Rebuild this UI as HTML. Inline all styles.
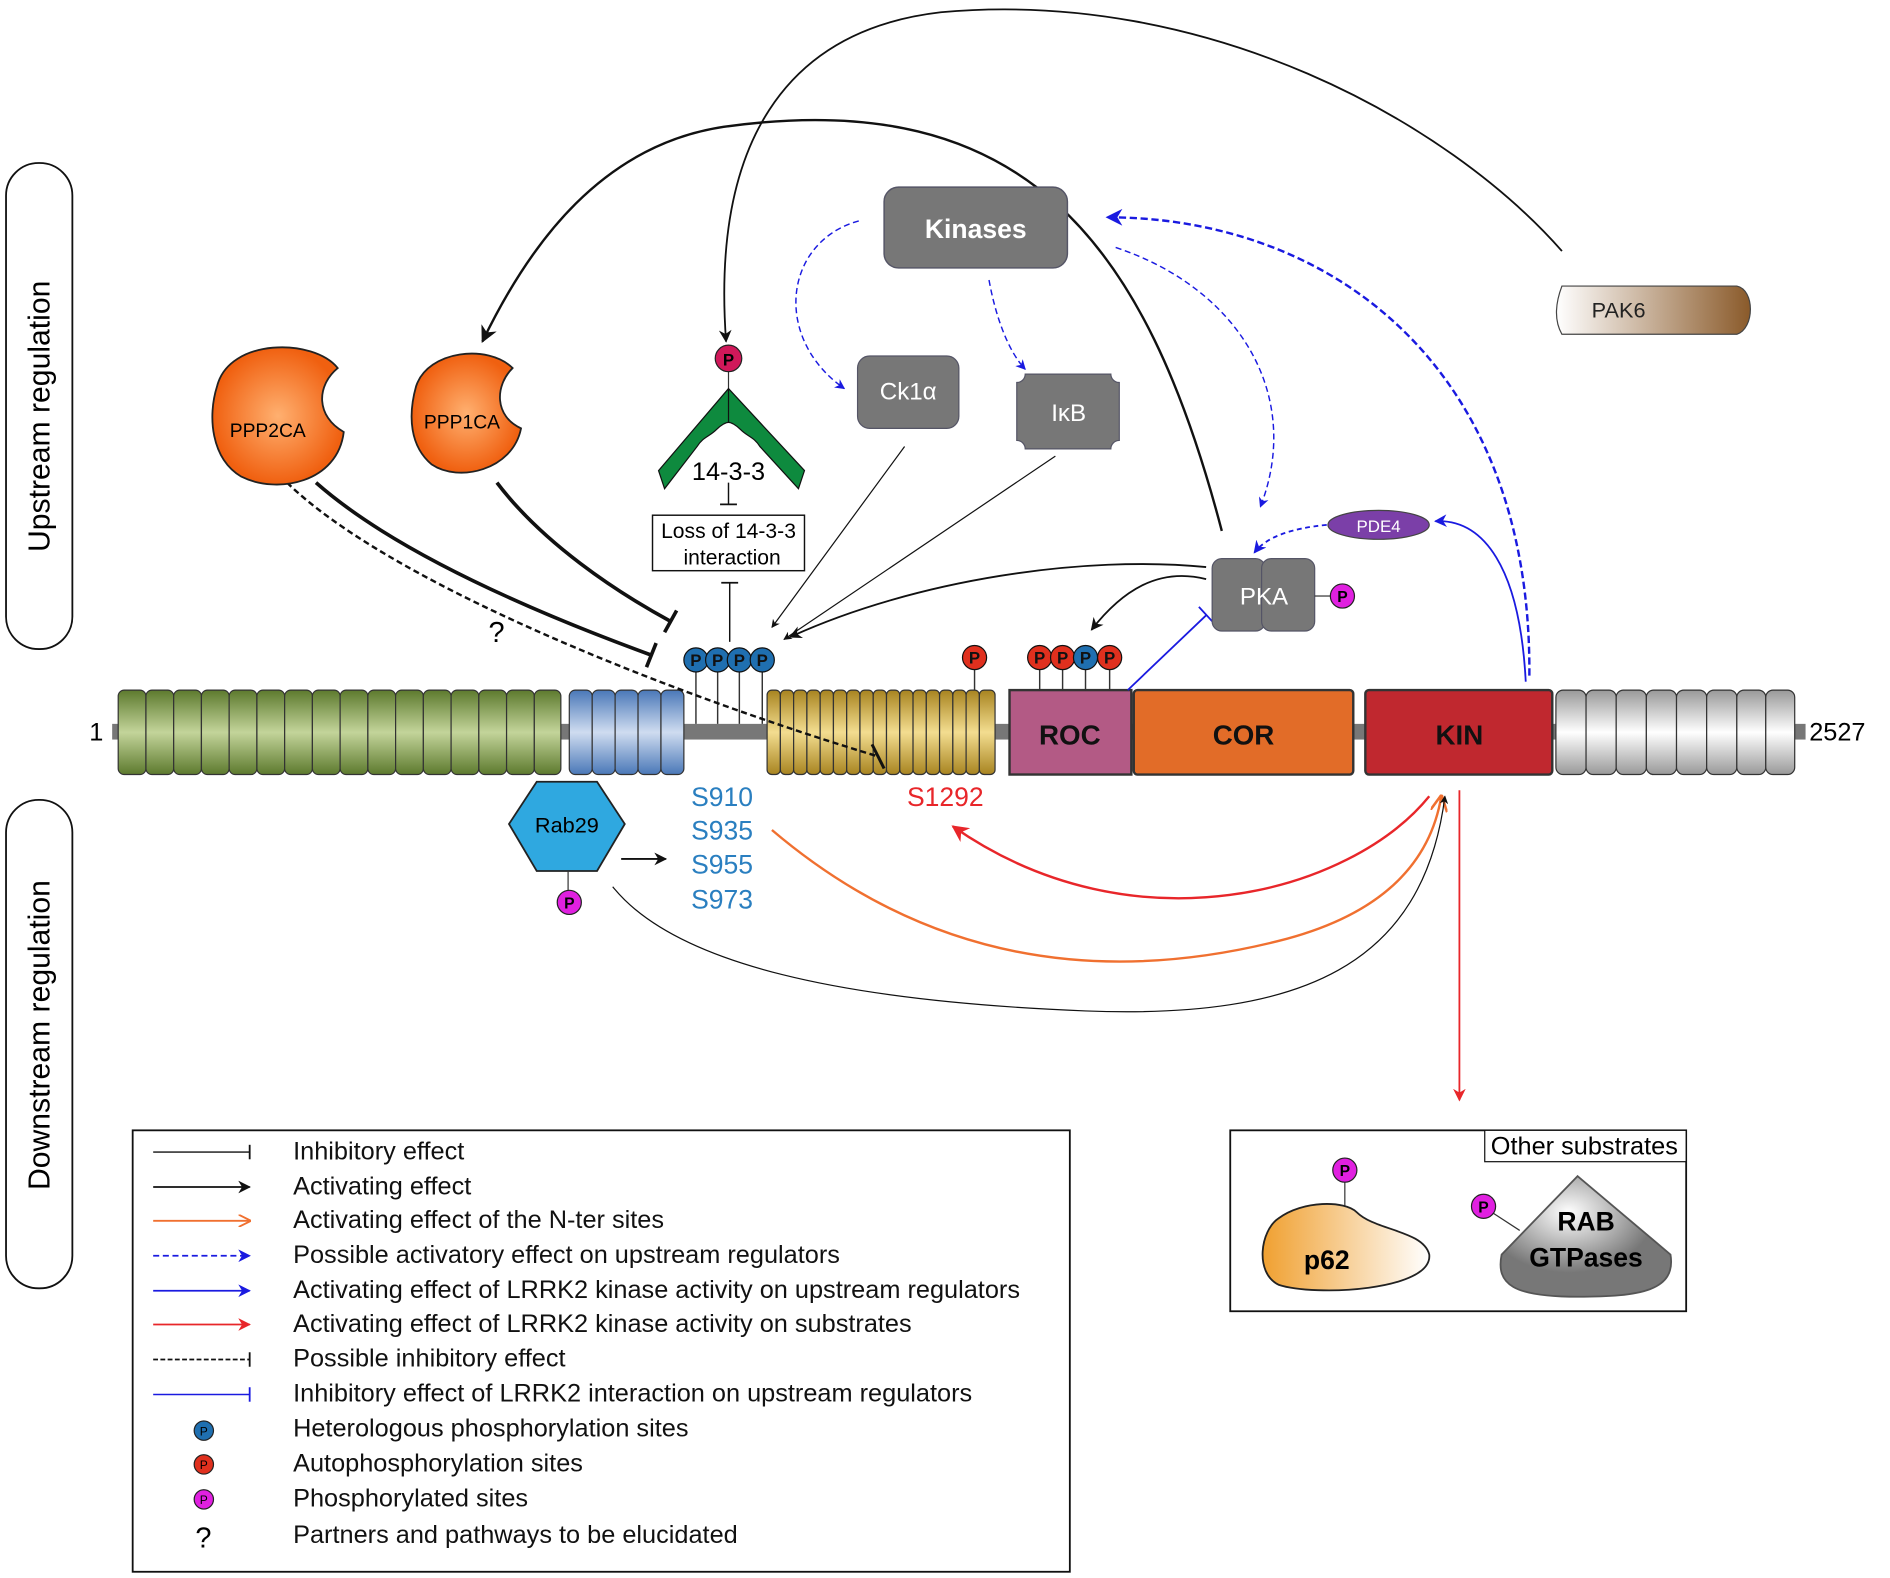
<!DOCTYPE html>
<html><head><meta charset="utf-8"><style>html,body{margin:0;padding:0;background:#fff}svg{display:block}text{font-family:"Liberation Sans",sans-serif}</style></head><body>
<svg width="1890" height="1578" viewBox="0 0 1567 1308" xmlns="http://www.w3.org/2000/svg">
<defs>
<marker id="ab" viewBox="0 0 10 10" refX="9" refY="5" markerWidth="7" markerHeight="7" orient="auto-start-reverse"><path d="M0,0 L10,5 L0,10 L3,5z" fill="#111"/></marker>
<marker id="abl" viewBox="0 0 10 10" refX="9" refY="5" markerWidth="7" markerHeight="7" orient="auto"><path d="M0,0 L10,5 L0,10 L3,5z" fill="#1a1ae0"/></marker>
<marker id="ar" viewBox="0 0 10 10" refX="9" refY="5" markerWidth="7" markerHeight="7" orient="auto"><path d="M0,0 L10,5 L0,10 L3,5z" fill="#e8262a"/></marker>
<marker id="ao" viewBox="0 0 10 10" refX="9" refY="5" markerWidth="7" markerHeight="7" orient="auto"><path d="M0,0 L10,5 L0,10" fill="none" stroke="#f07030" stroke-width="1.5"/></marker>
<linearGradient id="gg" x1="0" y1="0" x2="0" y2="1"><stop offset="0" stop-color="#5d7a2e"/><stop offset=".5" stop-color="#c3d49a"/><stop offset="1" stop-color="#5d7a2e"/></linearGradient>
<linearGradient id="gb" x1="0" y1="0" x2="0" y2="1"><stop offset="0" stop-color="#4a78b8"/><stop offset=".5" stop-color="#cfdcf0"/><stop offset="1" stop-color="#4a78b8"/></linearGradient>
<linearGradient id="gy" x1="0" y1="0" x2="0" y2="1"><stop offset="0" stop-color="#a88420"/><stop offset=".5" stop-color="#f3dd90"/><stop offset="1" stop-color="#a88420"/></linearGradient>
<linearGradient id="gw" x1="0" y1="0" x2="0" y2="1"><stop offset="0" stop-color="#999"/><stop offset=".5" stop-color="#fff"/><stop offset="1" stop-color="#999"/></linearGradient>
<radialGradient id="go"><stop offset="0" stop-color="#ffb070"/><stop offset="1" stop-color="#f06010"/></radialGradient>
<linearGradient id="gpak" x1="0" x2="1"><stop offset="0" stop-color="#fff"/><stop offset="1" stop-color="#8a5a2a"/></linearGradient>
<linearGradient id="gp62" x1="0" x2="1"><stop offset="0" stop-color="#f0a030"/><stop offset="1" stop-color="#fff"/></linearGradient>
<radialGradient id="grab" cx=".4" cy=".3"><stop offset="0" stop-color="#fff"/><stop offset="1" stop-color="#777"/></radialGradient>
</defs>

<rect x="5" y="135" width="55" height="403" rx="27" fill="none" stroke="#111" stroke-width="1.5"/>
<text transform="translate(41,345) rotate(-90)" font-size="25" text-anchor="middle">Upstream regulation</text>
<rect x="5" y="663" width="55" height="405" rx="27" fill="none" stroke="#111" stroke-width="1.5"/>
<text transform="translate(41,858) rotate(-90)" font-size="25" text-anchor="middle">Downstream regulation</text>

<rect x="93" y="600" width="1404" height="13" fill="#777"/>
<text x="74" y="614" font-size="21">1</text>
<text x="1500" y="614" font-size="21">2527</text>
<g stroke="#333" stroke-width="1">
<g fill="url(#gg)">
<rect x="98" y="572" width="23" height="70" rx="5"/><rect x="121" y="572" width="23" height="70" rx="5"/><rect x="144" y="572" width="23" height="70" rx="5"/><rect x="167" y="572" width="23" height="70" rx="5"/><rect x="190" y="572" width="23" height="70" rx="5"/><rect x="213" y="572" width="23" height="70" rx="5"/><rect x="236" y="572" width="23" height="70" rx="5"/><rect x="259" y="572" width="23" height="70" rx="5"/><rect x="282" y="572" width="23" height="70" rx="5"/><rect x="305" y="572" width="23" height="70" rx="5"/><rect x="328" y="572" width="23" height="70" rx="5"/><rect x="351" y="572" width="23" height="70" rx="5"/><rect x="374" y="572" width="23" height="70" rx="5"/><rect x="397" y="572" width="23" height="70" rx="5"/><rect x="420" y="572" width="23" height="70" rx="5"/><rect x="443" y="572" width="22" height="70" rx="5"/>
</g>
<g fill="url(#gb)">
<rect x="472" y="572" width="19" height="70" rx="5"/><rect x="491" y="572" width="19" height="70" rx="5"/><rect x="510" y="572" width="19" height="70" rx="5"/><rect x="529" y="572" width="19" height="70" rx="5"/><rect x="548" y="572" width="19" height="70" rx="5"/>
</g>
<g fill="url(#gy)">
<rect x="636" y="572" width="11" height="70" rx="4"/><rect x="647" y="572" width="11" height="70" rx="4"/><rect x="658" y="572" width="11" height="70" rx="4"/><rect x="669" y="572" width="11" height="70" rx="4"/><rect x="680" y="572" width="11" height="70" rx="4"/><rect x="691" y="572" width="11" height="70" rx="4"/><rect x="702" y="572" width="11" height="70" rx="4"/><rect x="713" y="572" width="11" height="70" rx="4"/><rect x="724" y="572" width="11" height="70" rx="4"/><rect x="735" y="572" width="11" height="70" rx="4"/><rect x="746" y="572" width="11" height="70" rx="4"/><rect x="757" y="572" width="11" height="70" rx="4"/><rect x="768" y="572" width="11" height="70" rx="4"/><rect x="779" y="572" width="11" height="70" rx="4"/><rect x="790" y="572" width="11" height="70" rx="4"/><rect x="801" y="572" width="11" height="70" rx="4"/><rect x="812" y="572" width="13" height="70" rx="4"/>
</g>
<g fill="url(#gw)">
<rect x="1290" y="572" width="25" height="70" rx="6"/><rect x="1315" y="572" width="25" height="70" rx="6"/><rect x="1340" y="572" width="25" height="70" rx="6"/><rect x="1365" y="572" width="25" height="70" rx="6"/><rect x="1390" y="572" width="25" height="70" rx="6"/><rect x="1415" y="572" width="25" height="70" rx="6"/><rect x="1440" y="572" width="24" height="70" rx="6"/><rect x="1464" y="572" width="24" height="70" rx="6"/>
</g>
<rect x="837" y="572" width="101" height="70" fill="#b35a85" stroke-width="2"/>
<rect x="940" y="572" width="182" height="70" rx="3" fill="#e26c28" stroke-width="2"/>
<rect x="1132" y="572" width="155" height="70" rx="3" fill="#c0282f" stroke-width="2"/>
</g>
<text x="887" y="617" font-size="23" font-weight="bold" text-anchor="middle" fill="#111">ROC</text>
<text x="1031" y="617" font-size="23" font-weight="bold" text-anchor="middle" fill="#111">COR</text>
<text x="1210" y="617" font-size="23" font-weight="bold" text-anchor="middle" fill="#111">KIN</text>

<g stroke="#333" stroke-width="1.2">
<line x1="577" y1="547" x2="577" y2="600"/><line x1="595" y1="547" x2="595" y2="600"/><line x1="613" y1="547" x2="613" y2="600"/><line x1="632" y1="547" x2="632" y2="600"/>
<line x1="808" y1="545" x2="808" y2="572"/><line x1="862" y1="545" x2="862" y2="572"/><line x1="881" y1="545" x2="881" y2="572"/><line x1="900" y1="545" x2="900" y2="572"/><line x1="920" y1="545" x2="920" y2="572"/>
</g>
<g stroke="#111" stroke-width="1">
<circle cx="577" cy="547" r="10" fill="#1f6fb0"/><circle cx="595" cy="547" r="10" fill="#1f6fb0"/><circle cx="613" cy="547" r="10" fill="#1f6fb0"/><circle cx="632" cy="547" r="10" fill="#1f6fb0"/>
<circle cx="808" cy="545" r="10" fill="#e0301e"/><circle cx="862" cy="545" r="10" fill="#e0301e"/><circle cx="881" cy="545" r="10" fill="#e0301e"/><circle cx="900" cy="545" r="10" fill="#1f6fb0"/><circle cx="920" cy="545" r="10" fill="#e0301e"/>
</g>
<g font-size="14" font-weight="bold" text-anchor="middle" fill="#111">
<text x="577" y="552">P</text><text x="595" y="552">P</text><text x="613" y="552">P</text><text x="632" y="552">P</text>
<text x="808" y="550">P</text><text x="862" y="550">P</text><text x="881" y="550">P</text><text x="900" y="550">P</text><text x="920" y="550">P</text>
</g>

<g font-size="22" fill="#2a7fc0"><text x="573" y="668">S910</text><text x="573" y="696">S935</text><text x="573" y="724">S955</text><text x="573" y="753">S973</text></g>
<text x="752" y="668" font-size="22" fill="#e8262a">S1292</text>

<polygon points="445,648 495,648 518,683 495,722 445,722 422,683" fill="#2fa8e0" stroke="#222" stroke-width="1.5"/>
<text x="470" y="690" font-size="18" text-anchor="middle">Rab29</text>
<line x1="471" y1="722" x2="471" y2="738" stroke="#333"/>
<circle cx="472" cy="748" r="10" fill="#e020e0" stroke="#222"/><text x="472" y="753" font-size="13" font-weight="bold" text-anchor="middle">P</text>

<line x1="515" y1="712" x2="552" y2="712" stroke="#111" stroke-width="1.5" marker-end="url(#ab)"/>
<path d="M640,688 C760,790 900,820 1060,780 C1140,760 1185,720 1195,660" fill="none" stroke="#f07030" stroke-width="2" marker-end="url(#ao)"/>
<path d="M1185,660 C1120,740 940,790 790,685" fill="none" stroke="#e8262a" stroke-width="2" marker-end="url(#ar)"/>
<path d="M508,735 C560,800 700,830 900,838 C1080,845 1180,800 1198,660" fill="none" stroke="#111" stroke-width="1" marker-end="url(#ab)"/>
<line x1="1210" y1="655" x2="1210" y2="912" stroke="#e8262a" stroke-width="1.5" marker-end="url(#ar)"/>
<path d="M238,400 C320,480 540,570 728,627" fill="none" stroke="#111" stroke-width="2" stroke-dasharray="5,3"/>
<line x1="723" y1="617" x2="733" y2="637" stroke="#111" stroke-width="2.5"/>
<text x="405" y="532" font-size="24">?</text>
<path d="M262,400 C330,460 450,510 540,543" fill="none" stroke="#111" stroke-width="3"/>
<line x1="544" y1="533" x2="536" y2="553" stroke="#111" stroke-width="3"/>
<path d="M412,400 C450,450 510,490 556,515" fill="none" stroke="#111" stroke-width="3"/>
<line x1="561" y1="506" x2="551" y2="524" stroke="#111" stroke-width="3"/>
<line x1="605" y1="483" x2="605" y2="532" stroke="#111" stroke-width="1.2"/><line x1="598" y1="483" x2="612" y2="483" stroke="#111" stroke-width="1.5"/>
<line x1="604" y1="400" x2="604" y2="418" stroke="#111" stroke-width="1.2"/><line x1="597" y1="418" x2="611" y2="418" stroke="#111" stroke-width="1.5"/>
<line x1="750" y1="370" x2="640" y2="520" stroke="#111" stroke-width="1" marker-end="url(#ab)"/>
<line x1="875" y1="378" x2="650" y2="530" stroke="#111" stroke-width="1" marker-end="url(#ab)"/>
<path d="M1000,470 C900,460 760,480 655,528" fill="none" stroke="#111" stroke-width="1.5" marker-end="url(#ab)"/>
<path d="M1000,480 C960,470 930,490 905,522" fill="none" stroke="#111" stroke-width="1.5" marker-end="url(#ab)"/>
<line x1="935" y1="572" x2="1000" y2="510" stroke="#1a1ae0" stroke-width="1.5"/><line x1="994" y1="503" x2="1006" y2="516" stroke="#1a1ae0" stroke-width="1.5"/>
<path d="M1013,440 C950,200 850,70 600,105 C500,120 440,200 400,283" fill="none" stroke="#111" stroke-width="2" marker-end="url(#ab)"/>
<path d="M1295,208 C1200,100 1000,-10 780,10 C650,25 590,120 602,283" fill="none" stroke="#111" stroke-width="1.5" marker-end="url(#ab)"/>
<path d="M712,183 C650,200 640,280 700,322" fill="none" stroke="#1a1ae0" stroke-width="1.2" stroke-dasharray="5,3" marker-end="url(#abl)"/>
<path d="M820,232 C825,260 835,290 850,306" fill="none" stroke="#1a1ae0" stroke-width="1.2" stroke-dasharray="5,3" marker-end="url(#abl)"/>
<path d="M925,205 C1030,240 1080,330 1045,420" fill="none" stroke="#1a1ae0" stroke-width="1.2" stroke-dasharray="5,3" marker-end="url(#abl)"/>
<path d="M1268,560 C1270,300 1100,180 918,180" fill="none" stroke="#1a1ae0" stroke-width="2" stroke-dasharray="6,3" marker-end="url(#abl)"/>
<path d="M1100,435 C1070,438 1050,445 1040,458" fill="none" stroke="#1a1ae0" stroke-width="1.5" stroke-dasharray="4,3" marker-end="url(#abl)"/>
<path d="M1265,565 C1260,470 1230,430 1190,432" fill="none" stroke="#1a1ae0" stroke-width="1.5" marker-end="url(#abl)"/>

<path d="M180,320 C190,280 260,280 280,305 C262,320 262,345 285,358 C280,400 230,410 200,395 C175,380 172,345 180,320z" fill="url(#go)" stroke="#222" stroke-width="1.5"/>
<text x="222" y="362" font-size="16" text-anchor="middle">PPP2CA</text>
<path d="M345,320 C355,290 405,285 425,305 C410,320 410,345 432,355 C425,390 380,400 358,385 C340,370 338,345 345,320z" fill="url(#go)" stroke="#222" stroke-width="1.5"/>
<text x="383" y="355" font-size="16" text-anchor="middle">PPP1CA</text>

<line x1="604" y1="307" x2="604" y2="322" stroke="#333"/>
<circle cx="604" cy="297" r="11" fill="#d0185a" stroke="#222"/><text x="604" y="303" font-size="14" font-weight="bold" text-anchor="middle">P</text>
<path d="M604,322 L667,390 L662,405 L630,370 C625,362 620,362 614,356 C610,352 606,350 604,350 C602,350 598,352 594,356 C588,362 583,362 578,370 L551,405 L546,390 Z" fill="#0e8a3e" stroke="#111" stroke-width="1"/>
<line x1="604" y1="322" x2="604" y2="350" stroke="#111"/>
<text x="604" y="398" font-size="21" text-anchor="middle">14-3-3</text>
<rect x="541" y="427" width="126" height="46" fill="#fff" stroke="#111" stroke-width="1.2"/>
<text x="604" y="446" font-size="17.5" text-anchor="middle">Loss of 14-3-3</text>
<text x="607" y="468" font-size="17.5" text-anchor="middle">interaction</text>

<rect x="733" y="155" width="152" height="67" rx="12" fill="#777" stroke="#556" stroke-width="1.2"/>
<text x="809" y="197" font-size="22" font-weight="bold" fill="#fff" text-anchor="middle">Kinases</text>
<rect x="711" y="295" width="84" height="60" rx="10" fill="#777" stroke="#556"/>
<text x="753" y="331" font-size="20" fill="#fff" text-anchor="middle">Ck1α</text>
<path d="M850,310 H921 A7,7 0 0 0 928,317 V365 A7,7 0 0 0 921,372 H850 A7,7 0 0 0 843,365 V317 A7,7 0 0 0 850,310z" fill="#777" stroke="#556"/>
<text x="886" y="349" font-size="20" fill="#fff" text-anchor="middle">IκB</text>
<rect x="1005" y="463" width="44" height="60" rx="8" fill="#777" stroke="#556"/>
<rect x="1046" y="463" width="44" height="60" rx="8" fill="#777" stroke="#556"/>
<text x="1048" y="501" font-size="20" fill="#fff" text-anchor="middle">PKA</text>
<line x1="1090" y1="494" x2="1103" y2="494" stroke="#333"/>
<circle cx="1113" cy="494" r="10" fill="#e020e0" stroke="#222"/><text x="1113" y="499" font-size="13" font-weight="bold" text-anchor="middle">P</text>
<ellipse cx="1143" cy="435" rx="42" ry="12" fill="#7b3fa8" stroke="#444"/>
<text x="1143" y="441" font-size="14" fill="#fff" text-anchor="middle">PDE4</text>
<path d="M1295,237 H1440 C1455,240 1455,272 1440,277 H1295 C1288,265 1290,250 1295,237z" fill="url(#gpak)" stroke="#444"/>
<text x="1342" y="263" font-size="18" fill="#222" text-anchor="middle">PAK6</text>

<rect x="110" y="937" width="777" height="366" fill="#fff" stroke="#111" stroke-width="1.5"/>
<g font-size="21" fill="#111">
<text x="243" y="961">Inhibitory effect</text>
<text x="243" y="990">Activating effect</text>
<text x="243" y="1018">Activating effect of the N-ter sites</text>
<text x="243" y="1047">Possible activatory effect on upstream regulators</text>
<text x="243" y="1076">Activating effect of LRRK2 kinase activity on upstream regulators</text>
<text x="243" y="1104">Activating effect of LRRK2 kinase activity on substrates</text>
<text x="243" y="1133">Possible inhibitory effect</text>
<text x="243" y="1162">Inhibitory effect of LRRK2 interaction on upstream regulators</text>
<text x="243" y="1191">Heterologous phosphorylation sites</text>
<text x="243" y="1220">Autophosphorylation sites</text>
<text x="243" y="1249">Phosphorylated sites</text>
<text x="243" y="1279">Partners and pathways to be elucidated</text>
</g>
<line x1="127" y1="955" x2="207" y2="955" stroke="#111" stroke-width="1.2"/><line x1="207" y1="949" x2="207" y2="961" stroke="#111" stroke-width="1.5"/>
<line x1="127" y1="984" x2="207" y2="984" stroke="#111" stroke-width="1.5" marker-end="url(#ab)"/>
<line x1="127" y1="1012" x2="207" y2="1012" stroke="#f07030" stroke-width="1.5" marker-end="url(#ao)"/>
<line x1="127" y1="1041" x2="207" y2="1041" stroke="#1a1ae0" stroke-width="1.5" stroke-dasharray="5,3" marker-end="url(#abl)"/>
<line x1="127" y1="1070" x2="207" y2="1070" stroke="#1a1ae0" stroke-width="1.5" marker-end="url(#abl)"/>
<line x1="127" y1="1098" x2="207" y2="1098" stroke="#e8262a" stroke-width="1.5" marker-end="url(#ar)"/>
<line x1="127" y1="1127" x2="207" y2="1127" stroke="#111" stroke-width="1.5" stroke-dasharray="4,2"/><line x1="207" y1="1121" x2="207" y2="1133" stroke="#111" stroke-width="1.5"/>
<line x1="127" y1="1156" x2="207" y2="1156" stroke="#1a1ae0" stroke-width="1.2"/><line x1="207" y1="1150" x2="207" y2="1162" stroke="#1a1ae0" stroke-width="1.5"/>
<circle cx="169" cy="1186" r="8" fill="#1f6fb0" stroke="#222"/><text x="169" y="1190" font-size="10" text-anchor="middle">P</text>
<circle cx="169" cy="1214" r="8" fill="#e0301e" stroke="#222"/><text x="169" y="1218" font-size="10" text-anchor="middle">P</text>
<circle cx="169" cy="1243" r="8" fill="#e020e0" stroke="#222"/><text x="169" y="1247" font-size="10" text-anchor="middle">P</text>
<text x="162" y="1283" font-size="24">?</text>

<rect x="1020" y="937" width="378" height="150" fill="#fff" stroke="#111" stroke-width="1.5"/>
<rect x="1231" y="937" width="167" height="26" fill="#fff" stroke="#111"/>
<text x="1236" y="957" font-size="21">Other substrates</text>
<line x1="1115" y1="980" x2="1115" y2="1000" stroke="#333"/>
<circle cx="1115" cy="970" r="10" fill="#e020e0" stroke="#222"/><text x="1115" y="975" font-size="13" font-weight="bold" text-anchor="middle">P</text>
<path d="M1060,1010 C1080,995 1115,995 1125,1005 C1140,1020 1180,1020 1185,1040 C1188,1070 1090,1075 1060,1065 C1040,1055 1045,1020 1060,1010z" fill="url(#gp62)" stroke="#222" stroke-width="1.5"/>
<text x="1100" y="1052" font-size="22" font-weight="bold" text-anchor="middle">p62</text>
<line x1="1237" y1="1005" x2="1260" y2="1020" stroke="#333"/>
<circle cx="1230" cy="1000" r="10" fill="#e020e0" stroke="#222"/><text x="1230" y="1005" font-size="13" font-weight="bold" text-anchor="middle">P</text>
<path d="M1308,975 L1385,1040 C1390,1070 1360,1075 1308,1075 C1255,1075 1240,1065 1245,1040 Z" fill="url(#grab)" stroke="#555" stroke-width="1.5"/>
<text x="1315" y="1020" font-size="22" font-weight="bold" text-anchor="middle">RAB</text>
<text x="1315" y="1050" font-size="22" font-weight="bold" text-anchor="middle">GTPases</text>
</svg>
</body></html>
